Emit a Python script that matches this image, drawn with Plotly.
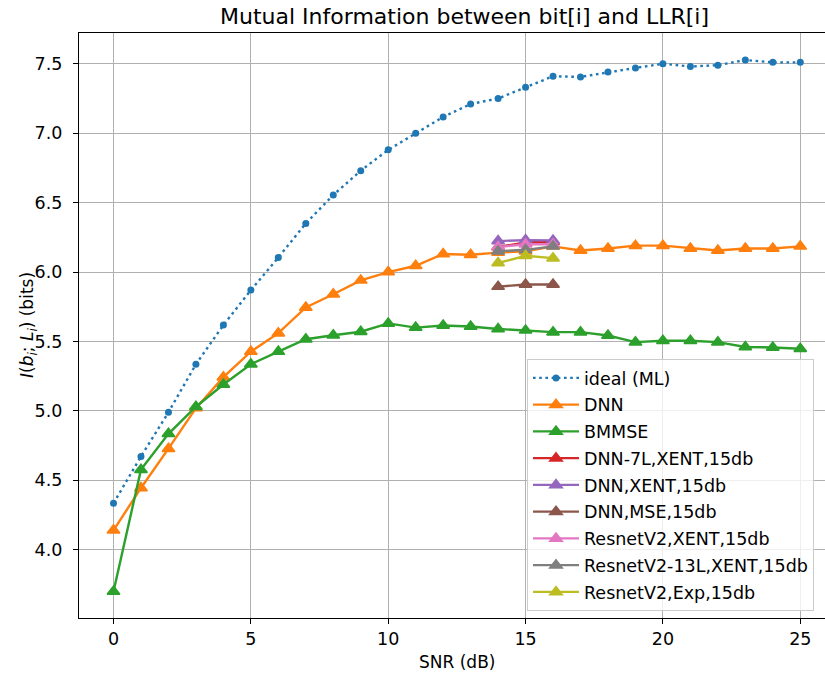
import plotly.graph_objects as go

# SNR axis (dB)
snr = list(range(0, 26))
snr_15db = [14, 15, 16]

# Mutual information I(b_i; L_i) in bits
ideal_ml = [4.335, 4.672, 4.99, 5.336, 5.618, 5.87, 6.105, 6.35, 6.555, 6.73,
            6.88, 7.00, 7.117, 7.21, 7.25, 7.33, 7.41, 7.405, 7.44, 7.47,
            7.50, 7.48, 7.49, 7.527, 7.51, 7.51]
dnn = [4.14, 4.445, 4.728, 5.02, 5.243, 5.427, 5.56, 5.745, 5.84, 5.94,
       6.00, 6.045, 6.13, 6.125, 6.14, 6.15, 6.185, 6.155, 6.17, 6.19,
       6.19, 6.17, 6.155, 6.17, 6.17, 6.185]
bmmse = [3.70, 4.577, 4.835, 5.03, 5.19, 5.336, 5.427, 5.516, 5.545, 5.57,
         5.63, 5.60, 5.615, 5.608, 5.59, 5.58, 5.567, 5.567, 5.543, 5.495,
         5.505, 5.505, 5.495, 5.46, 5.457, 5.448]
dnn_7l_xent = [6.18, 6.213, 6.218]
dnn_xent = [6.223, 6.23, 6.228]
dnn_mse = [5.895, 5.91, 5.91]
resnet_xent = [6.18, 6.20, 6.20]
resnet_13l_xent = [6.15, 6.16, 6.185]
resnet_exp = [6.065, 6.117, 6.10]

series = [
    ("DNN", snr, dnn, "#ff7f0e"),
    ("BMMSE", snr, bmmse, "#2ca02c"),
    ("DNN-7L,XENT,15db", snr_15db, dnn_7l_xent, "#d62728"),
    ("DNN,XENT,15db", snr_15db, dnn_xent, "#9467bd"),
    ("DNN,MSE,15db", snr_15db, dnn_mse, "#8c564b"),
    ("ResnetV2,XENT,15db", snr_15db, resnet_xent, "#e377c2"),
    ("ResnetV2-13L,XENT,15db", snr_15db, resnet_13l_xent, "#7f7f7f"),
    ("ResnetV2,Exp,15db", snr_15db, resnet_exp, "#bcbd22"),
]

FONT = "DejaVu Sans"
W, H = 825, 675
L, R, T, B = 79, 0, 33, 57

fig = go.Figure()
fig.add_trace(go.Scatter(
    x=snr, y=ideal_ml, name="ideal (ML)", mode="lines+markers",
    legendgroup="g0",
    line=dict(color="#1f77b4", width=2.4, dash="2.6px,3.6px"),
    marker=dict(symbol="circle", size=7, color="#1f77b4"),
))
for i, (name, xs, ys, col) in enumerate(series, start=1):
    fig.add_trace(go.Scatter(
        x=xs, y=ys, name=name, mode="lines+markers", legendgroup=f"g{i}",
        line=dict(color=col, width=2.4),
        marker=dict(symbol="triangle-up", size=11, color=col,
                    line=dict(color=col, width=1.5)),
    ))

axis_common = dict(
    showgrid=True, gridcolor="#b0b0b0", gridwidth=1.2,
    showline=True, linecolor="black", linewidth=1.2,
    ticks="outside", ticklen=5, tickwidth=1.2, tickcolor="black",
    tickfont=dict(family=FONT, size=17.5, color="black"),
    zeroline=False,
)

fig.update_xaxes(range=[-1.256, 25.90], tickvals=[0, 5, 10, 15, 20, 25],
                 mirror=True, **axis_common)
fig.update_yaxes(range=[3.5085, 7.7215],
                 tickvals=[4.0, 4.5, 5.0, 5.5, 6.0, 6.5, 7.0, 7.5],
                 tickformat=".1f", ticklabelstandoff=7, **axis_common)

fig.update_layout(
    width=W, height=H,
    margin=dict(l=L, r=R, t=T, b=B),
    paper_bgcolor="white", plot_bgcolor="white",
    font=dict(family=FONT, size=17, color="black"),
    showlegend=True,
    legend=dict(
        x=(527 - L) / (W - L - R), y=(H - B - 359) / (H - T - B),
        xanchor="left", yanchor="top",
        bgcolor="rgba(255,255,255,0.8)", bordercolor="#cccccc", borderwidth=1,
        font=dict(family=FONT, size=17.5, color="black"),
        tracegroupgap=1, itemwidth=46,
        entrywidth=300, entrywidthmode="pixels",
    ),
    annotations=[
        dict(text="Mutual Information between bit[i] and LLR[i]",
             x=464, y=H - 16, showarrow=False,
             font=dict(family=FONT, size=22, color="black")),
        dict(text="SNR (dB)", x=457, y=H - 662, showarrow=False,
             font=dict(family=FONT, size=17, color="black")),
        dict(text="<i>I</i>(<i>b<sub>i</sub></i>; <i>L<sub>i</sub></i>) (bits)",
             x=28, y=H - 325, textangle=-90, showarrow=False,
             font=dict(family=FONT, size=17, color="black")),
    ],
)

# annotations placed in pixel units of the page
for a in fig.layout.annotations:
    a.update(xref="paper", yref="paper",
             x=(a.x - L) / (W - L - R), y=(a.y - B) / (H - T - B),
             xanchor="center", yanchor="middle")

fig.write_html("out.html")
